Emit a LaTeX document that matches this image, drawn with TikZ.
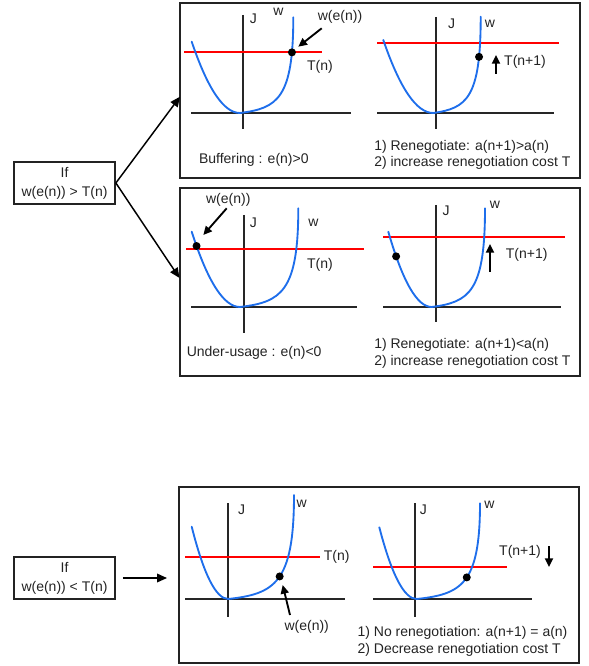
\documentclass[tikz,border=0pt]{standalone}
\usepackage{fontspec}
\setmainfont{Liberation Sans}
\usetikzlibrary{arrows.meta}
\definecolor{tc}{RGB}{35,35,35}
\definecolor{wblue}{RGB}{30,110,235}
\definecolor{tred}{RGB}{255,0,0}
\newcommand\wLeft[4]{(#1,#2) .. controls ({#1+(#3-#1)/3},#2) and ({#1+2*(#3-#1)/3},{#2+(#4-#2)/3}) .. (#3,#4)}
\newcommand\wRight[4]{(#1,#2) .. controls ({#1+0.7*(#3-#1)},{#2+0.05*(#4-#2)}) and (#3,{#2+0.15*(#4-#2)}) .. (#3,#4)}
\begin{document}
\begin{tikzpicture}[x=0.75pt,y=-0.75pt,
  txt/.style={font=\fontsize{10.5}{12.6}\selectfont, text=tc, inner sep=0pt},
  panel/.style={draw=tc, line width=1.5pt, minimum width=300pt, inner sep=0pt},
  cond/.style={draw=tc, line width=1.3pt, minimum width=75.75pt, minimum height=31.5pt, align=center,
     font=\fontsize{10.5}{14.2}\selectfont, text=tc, inner sep=0pt},
  axis/.style={draw=black!85, line width=1.5pt},
  curve/.style={draw=wblue, line width=1.4pt, line cap=round},
  thr/.style={draw=tred, line width=1.3pt},
  dot/.style={circle, fill=black, inner sep=0pt, minimum size=6pt},
  arr/.style={draw=black, line width=1.1pt, -{Triangle[length=7.5pt,width=6.5pt]}},
  ptr/.style={draw=black, line width=1.4pt, -{Triangle[length=6.5pt,width=6pt]}}]
\useasboundingbox (0,0) rectangle (588,666);

% panels
\node[panel, minimum height=131.25pt] (p1) at (380,90.5) {};
\node[panel, minimum height=141pt] (p2) at (380,282) {};
\node[panel, minimum height=132pt] (p3) at (379,575) {};

% condition boxes
\node[cond] (c1) at (64.5,183) {If\\w(e(n)) > T(n)};
\node[cond] (c2) at (64.5,578) {If\\w(e(n)) < T(n)};

\coordinate (e1) at (180,96.7);
\coordinate (e2) at (179.5,278);
\draw[arr] (c1.east) -- (e1);
\draw[arr] (c1.east) -- (e2);
\draw[arr, shorten <=5.25pt, shorten >=8.25pt] (c2.east) -- (c2.east -| p3.west);

% ===== top panel, graph 1 =====
\draw[axis] (243,15) -- (243,129);
\draw[axis] (191,113) -- (351,113);
\draw[thr] (184,52) -- (322,52);
\draw[curve] \wLeft{240}{113}{191.7}{41.7};
\draw[curve] \wRight{240}{113}{293.3}{17.3} node[dot, pos=0.833] (d1) {};
\node[txt] (j1) at (253.3,18.3) {J};
\node[txt] (w1) at (278.3,11.7) {w};
\node[txt] (we1) at (340,16.7) {w(e(n))};
\node[txt] (t1) at (320,66.7) {T(n)};
\coordinate (q1s) at (321.7,28.3);
\coordinate (q1e) at (298.3,46.7);
\draw[ptr] (q1s) -- (q1e);
\node[txt] (b1) at (253.8,160) {Buffering : e(n)>0};

% ===== top panel, graph 2 =====
\draw[axis] (436,17) -- (436,129);
\draw[axis] (377,113) -- (554,113);
\draw[thr] (377,43) -- (559,43);
\draw[curve] \wLeft{433.3}{113}{383.3}{40};
\draw[curve] \wRight{433.3}{113}{480.7}{16.7} node[dot, pos=0.805] (d2) {};
\node[txt] (j2) at (451.7,24) {J};
\node[txt] (w2) at (490,24) {w};
\node[txt] (t2) at (525,61.7) {T(n+1)};
\coordinate (u1s) at (496,74);
\coordinate (u1e) at (496,55);
\draw[ptr] (u1s) -- (u1e);
\node[txt, anchor=west] (r1) at (374,146.7) {1) Renegotiate: a(n+1)>a(n)};
\node[txt, anchor=west] (r2) at (374,163.3) {2) increase renegotiation cost T};

% ===== middle panel, graph 1 =====
\draw[axis] (244,215) -- (244,333);
\draw[axis] (191,307) -- (357,307);
\draw[thr] (186,249) -- (364,249);
\draw[curve] \wLeft{240}{307}{191.7}{231.7} node[dot, pos=0.9] (d3) {};
\draw[curve] \wRight{240}{307}{298.3}{208.3};
\node[txt] (we3) at (228.3,200) {w(e(n))};
\node[txt] (j3) at (253.3,222.7) {J};
\node[txt] (w3) at (313.3,222.7) {w};
\node[txt] (t3) at (320,265) {T(n)};
\coordinate (q3s) at (226.7,208.3);
\coordinate (q3e) at (203.3,235);
\draw[ptr] (q3s) -- (q3e);
\node[txt, anchor=west] (b3) at (186.5,352.5) {Under-usage : e(n)<0};

% ===== middle panel, graph 2 =====
\draw[axis] (436,205) -- (436,322);
\draw[axis] (383,307) -- (561,307);
\draw[thr] (383,237) -- (565,237);
\draw[curve] \wLeft{431.7}{307}{388.3}{231.7} node[dot, pos=0.82] (d4) {};
\draw[curve] \wRight{431.7}{307}{485}{208.3};
\node[txt] (j4) at (446,210.7) {J};
\node[txt] (w4) at (495,205) {w};
\node[txt] (t4) at (526.7,255) {T(n+1)};
\coordinate (u2s) at (490,271.7);
\coordinate (u2e) at (490,244);
\draw[ptr] (u2s) -- (u2e);
\node[txt, anchor=west] (r3) at (374,345) {1) Renegotiate: a(n+1)<a(n)};
\node[txt, anchor=west] (r4) at (374,362) {2) increase renegotiation cost T};

% ===== bottom panel, graph 1 =====
\draw[axis] (228,503) -- (228,617);
\draw[axis] (185,599) -- (345,599);
\draw[thr] (185,557) -- (320,557);
\draw[curve] \wLeft{228.3}{599}{191.7}{526.7};
\draw[curve] \wRight{228.3}{599}{294}{495} node[dot, pos=0.52] (d5) {};
\node[txt] (j5) at (241.7,510) {J};
\node[txt] (w5) at (301.7,504) {w};
\node[txt] (t5) at (336.7,557.3) {T(n)};
\node[txt] (we5) at (306.7,626.7) {w(e(n))};
\coordinate (q5s) at (290,615);
\coordinate (q5e) at (282.7,585);
\draw[ptr] (q5s) -- (q5e);

% ===== bottom panel, graph 2 =====
\draw[axis] (415,503) -- (415,617);
\draw[axis] (373,599) -- (532,599);
\draw[thr] (373,567) -- (507,567);
\draw[curve] \wLeft{416.7}{599}{379.3}{527.3};
\draw[curve] \wRight{416.7}{599}{480}{503.3} node[dot, pos=0.53] (d6) {};
\node[txt] (j6) at (423.3,510) {J};
\node[txt] (w6) at (489.3,505) {w};
\node[txt] (t6) at (520,551.7) {T(n+1)};
\coordinate (v1s) at (549,546);
\coordinate (v1e) at (549,567);
\draw[ptr] (v1s) -- (v1e);
\node[txt, anchor=west] (r5) at (357.3,633.3) {1) No renegotiation: a(n+1) = a(n)};
\node[txt, anchor=west] (r6) at (357.3,650) {2) Decrease renegotiation cost T};
\end{tikzpicture}
\end{document}
